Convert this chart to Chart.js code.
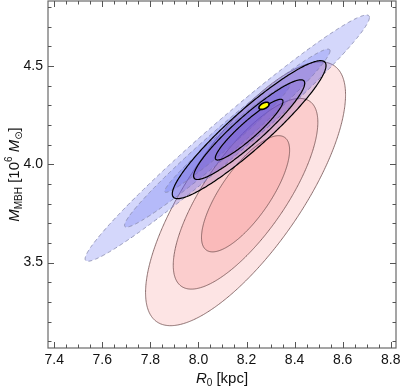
<!DOCTYPE html>
<html>
<head>
<meta charset="utf-8">
<script src="https://cdn.jsdelivr.net/npm/chart.js@4.4.1/dist/chart.umd.min.js"></script>
<style>
  html, body { margin: 0; padding: 0; background: #fff; }
  #wrap { width: 400px; height: 390px; }
</style>
</head>
<body>
<div id="wrap"><canvas id="chart"></canvas></div>
<script>
// Axis ticks and ranges
const xTicks = [7.4, 7.6, 7.8, 8.0, 8.2, 8.4, 8.6, 8.8];
const yTicks = [3.5, 4.0, 4.5];
const xRange = [7.374, 8.822];
const yRange = [3.066, 4.830];

// Fits: centre, sigmas and correlation (R0 in kpc, mass in 10^6 Msun)
const fitNames   = ['red', 'blue', 'combined', 'best'];
const fitR0      = [8.196, 8.120, 8.211, 8.273];
const fitMass    = [3.850, 4.133, 4.176, 4.297];
const fitSigmaR0 = [0.121, 0.172, 0.093, 0.014];
const fitSigmaM  = [0.195, 0.182, 0.102, 0.012];
const fitRho     = [0.75, 0.98, 0.93, 0.5];

// 1, 2 and 3 sigma levels for two parameters (sqrt of chi2, 2 dof)
const levels = [1.515, 2.486, 3.439];

// Outline of the confidence ellipse of fit i at level k
function contour(i, k) {
    const pts = [];
    const n = 160;
    const sx = fitSigmaR0[i], sy = fitSigmaM[i], r = fitRho[i];
    for (let j = 0; j <= n; j++) {
        const t = 2 * Math.PI * j / n;
        const u = Math.cos(t), v = Math.sin(t);
        pts.push({
            x: fitR0[i] + k * sx * u,
            y: fitMass[i] + k * sy * (r * u + Math.sqrt(1 - r * r) * v)
        });
    }
    return pts;
}

// Styles per fit
const styles = {
    red:      { fill: 'rgba(242, 90, 90, 0.16)', line: '#6e4c4c', width: 0.8, dash: [] },
    blue:     { fill: 'rgba(90, 100, 240, 0.26)', line: '#8a8cb0', width: 0.9, dash: [4, 3] },
    combined: { fill: 'rgba(105, 65, 195, 0.20)', line: '#000', width: 1.2, dash: [] },
    best:     { fill: '#ffff00', line: '#000', width: 1.6, dash: [] }
};

// Build datasets from bottom to top
const layers = [];
for (let i = 0; i < 3; i++) {
    for (let l = levels.length - 1; l >= 0; l--) {
        layers.push({ fit: i, level: levels[l] });
    }
}
layers.push({ fit: 3, level: levels[0] });

const datasets = layers.map((layer, idx) => {
    const st = styles[fitNames[layer.fit]];
    return {
        label: fitNames[layer.fit] + ' ' + layer.level,
        data: contour(layer.fit, layer.level),
        backgroundColor: st.fill,
        borderColor: st.line,
        borderWidth: st.width,
        borderDash: st.dash,
        pointRadius: 0,
        tension: 0.001, // avoids the fast path that breaks closed curves
        fill: 'shape',
        order: layers.length - idx
    };
});

// Frame, inward ticks and axis titles
const framePlugin = {
    id: 'frame',
    afterDraw(chart) {
        const { ctx, chartArea: a, scales: { x, y } } = chart;
        ctx.save();
        ctx.strokeStyle = '#6a6a6a';
        ctx.lineWidth = 1.2;
        ctx.strokeRect(a.left, a.top, a.right - a.left, a.bottom - a.top);

        ctx.lineWidth = 1;
        ctx.strokeStyle = '#555';
        ctx.beginPath();
        // x ticks, major and minor (every 0.05)
        for (let v = 7.35; v <= 8.85; v += 0.05) {
            const val = Math.round(v * 100) / 100;
            if (val < xRange[0] || val > xRange[1]) continue;
            const px = Math.round(x.getPixelForValue(val)) + 0.5;
            const major = xTicks.some(t => Math.abs(t - val) < 1e-6);
            const len = major ? 6 : 3.5;
            ctx.moveTo(px, a.bottom); ctx.lineTo(px, a.bottom - len);
            ctx.moveTo(px, a.top); ctx.lineTo(px, a.top + len);
        }
        // y ticks, major and minor (every 0.1)
        for (let v = 3.0; v <= 4.9; v += 0.1) {
            const val = Math.round(v * 10) / 10;
            if (val < yRange[0] || val > yRange[1]) continue;
            const py = Math.round(y.getPixelForValue(val)) + 0.5;
            const major = yTicks.some(t => Math.abs(t - val) < 1e-6);
            const len = major ? 6 : 3.5;
            ctx.moveTo(a.left, py); ctx.lineTo(a.left + len, py);
            ctx.moveTo(a.right, py); ctx.lineTo(a.right - len, py);
        }
        ctx.stroke();

        ctx.fillStyle = '#111';
        ctx.textBaseline = 'alphabetic';
        const fam = '"Liberation Sans", Arial, sans-serif';

        // x title: R0 [kpc]
        drawRich(ctx, [
            { t: 'R', f: 'italic 15px ' + fam, dy: 0 },
            { t: '0', f: '10px ' + fam, dy: 3 },
            { t: ' [kpc]', f: '15px ' + fam, dy: 0 }
        ], (a.left + a.right) / 2, 383, 0);

        // y title: M_MBH [10^6 M_sun]
        drawRich(ctx, [
            { t: 'M', f: 'italic 15px ' + fam, dy: 0 },
            { t: 'MBH', f: '10px ' + fam, dy: 3 },
            { t: ' [10', f: '15px ' + fam, dy: 0 },
            { t: '6', f: '10px ' + fam, dy: -7 },
            { t: ' ', f: '15px ' + fam, dy: 0 },
            { t: 'M', f: 'italic 15px ' + fam, dy: 0 },
            { t: '\u2299', f: '10px "DejaVu Sans", ' + fam, dy: 3 },
            { t: ']', f: '15px ' + fam, dy: 0 }
        ], 19, (a.top + a.bottom) / 2, -Math.PI / 2);
        ctx.restore();
    }
};

// Draw text pieces (sub/superscripts) centred at cx, cy with rotation
function drawRich(ctx, parts, cx, cy, angle) {
    let total = 0;
    parts.forEach(p => { ctx.font = p.f; p.w = ctx.measureText(p.t).width; total += p.w; });
    ctx.save();
    ctx.translate(cx, cy);
    ctx.rotate(angle);
    let xPos = -total / 2;
    parts.forEach(p => {
        ctx.font = p.f;
        ctx.fillText(p.t, xPos, p.dy);
        xPos += p.w;
    });
    ctx.restore();
}

// Keep the plot box fixed: no automatic padding for overhanging labels
function fixBox(size, prop) {
    return s => {
        s[prop] = size;
        s.paddingTop = 0; s.paddingBottom = 0;
        s.paddingLeft = 0; s.paddingRight = 0;
    };
}

const tickFont = { family: '"Liberation Sans", Arial, sans-serif', size: 14 };

new Chart(document.getElementById('chart').getContext('2d'), {
    type: 'line',
    data: { datasets: datasets },
    options: {
        responsive: true,
        maintainAspectRatio: false,
        animation: false,
        layout: { padding: { left: 2, right: 4, top: 1, bottom: 2 } },
        plugins: {
            legend: { display: false },
            tooltip: { enabled: false },
            filler: { propagate: false }
        },
        scales: {
            x: {
                type: 'linear',
                min: xRange[0],
                max: xRange[1],
                grid: { display: false, drawTicks: false },
                border: { display: false },
                afterBuildTicks: s => { s.ticks = xTicks.map(v => ({ value: v })); },
                afterFit: fixBox(40, 'height'),
                ticks: {
                    padding: 4,
                    color: '#111',
                    font: tickFont,
                    maxRotation: 0,
                    autoSkip: false,
                    callback: v => v.toFixed(1)
                }
            },
            y: {
                type: 'linear',
                min: yRange[0],
                max: yRange[1],
                grid: { display: false, drawTicks: false },
                border: { display: false },
                afterBuildTicks: s => { s.ticks = yTicks.map(v => ({ value: v })); },
                afterFit: fixBox(46, 'width'),
                ticks: {
                    padding: 5,
                    color: '#111',
                    font: tickFont,
                    autoSkip: false,
                    callback: v => v.toFixed(1)
                }
            }
        }
    },
    plugins: [framePlugin]
});
</script>
</body>
</html>
